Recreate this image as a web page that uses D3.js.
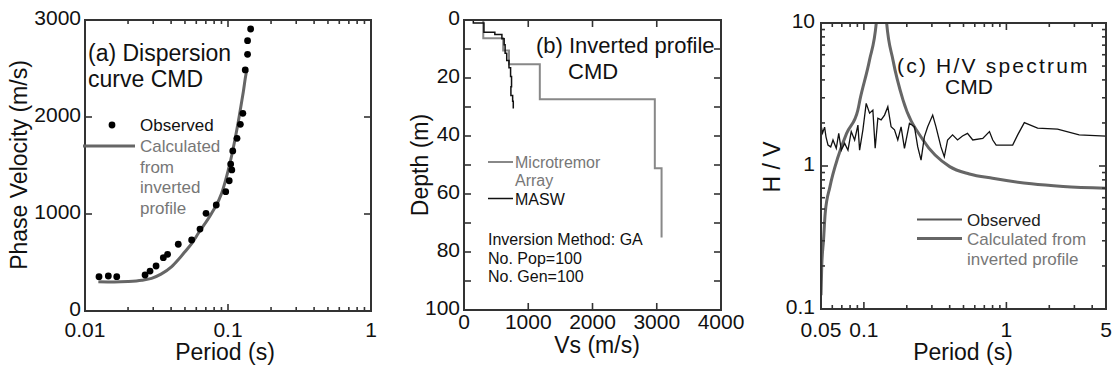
<!DOCTYPE html>
<html>
<head>
<meta charset="utf-8">
<script src="https://cdn.jsdelivr.net/npm/d3@7"></script>
<style>
  body { margin: 0; background: #fff; }
  svg { display: block; font-family: "Liberation Sans", Arial, sans-serif; }
</style>
</head>
<body>
<svg id="chart" width="1113" height="373"></svg>
<script>
// (a) dispersion curve
const dispObsPeriod = [0.01253, 0.01456, 0.01667, 0.0263, 0.0285, 0.0314, 0.0353, 0.0378, 0.0449, 0.0557, 0.0637, 0.0702, 0.0828, 0.0964, 0.102, 0.1063, 0.1044, 0.108, 0.1156, 0.122, 0.127, 0.132, 0.137, 0.137, 0.144];
const dispObsVel    = [354, 361, 354, 371, 412, 464, 550, 584, 688, 732, 845, 1007, 1093, 1230, 1343, 1454, 1515, 1650, 1780, 1925, 2038, 2485, 2646, 2787, 2907];
const dispCalcPeriod = [0.0124, 0.016, 0.020, 0.025, 0.0292, 0.034, 0.0404, 0.045, 0.050, 0.056, 0.062, 0.0768, 0.0903, 0.1005, 0.1063, 0.118, 0.128, 0.135, 0.137];
const dispCalcVel    = [302, 300, 305, 318, 337, 380, 457, 530, 611, 700, 801, 1007, 1213, 1454, 1608, 1951, 2261, 2467, 2480];

// (b) inverted profiles: layer Vs and layer bottom depth
const maswVs    = [145, 310, 480, 590, 625, 640, 665, 700, 725, 740, 730, 757, 767];
const maswDepth = [1.0, 4.2, 5.0, 6.5, 8.5, 11.5, 14.0, 16.5, 19.5, 23.0, 26.0, 28.0, 30.5];
const arrayVs    = [300, 610, 700, 1180, 2970, 3075];
const arrayDepth = [6.3, 10.5, 15.3, 27.3, 51.1, 75];

// (c) H/V spectrum
const hvObsPeriod = [0.0500, 0.0513, 0.0530, 0.0542, 0.0560, 0.0585, 0.0607, 0.0640, 0.0666, 0.0694, 0.0733, 0.0773, 0.0815, 0.0861, 0.0908, 0.0933, 0.0984, 0.1038, 0.1096, 0.1156, 0.1200, 0.1253, 0.1321, 0.1396, 0.1472, 0.1552, 0.1639, 0.1729, 0.1824, 0.1926, 0.2088, 0.2264, 0.2387, 0.2518, 0.2656, 0.2803, 0.3039, 0.3206, 0.3473, 0.3667, 0.3866, 0.4190, 0.4541, 0.4921, 0.5333, 0.5809, 0.6826, 0.7604, 0.8021, 0.8475, 1.107, 1.200, 1.336, 1.656, 2.285, 3.24, 5.0];
const hvObsRatio  = [1.93, 1.70, 1.87, 1.60, 1.40, 1.36, 1.52, 1.33, 1.69, 1.29, 1.44, 1.29, 1.74, 1.52, 1.93, 1.29, 1.79, 2.74, 2.34, 2.46, 1.33, 2.16, 2.10, 2.27, 2.60, 1.88, 1.79, 1.52, 1.88, 1.33, 1.99, 1.88, 1.36, 1.10, 1.60, 1.88, 2.27, 1.88, 1.36, 1.16, 1.52, 1.65, 1.52, 1.62, 1.69, 1.52, 1.56, 1.74, 1.52, 1.40, 1.40, 1.65, 2.01, 1.84, 1.81, 1.65, 1.62];
const hvCalcPeriod = [0.0500, 0.0506, 0.0521, 0.0535, 0.0578, 0.0659, 0.0756, 0.0907, 0.0938, 0.1095, 0.1227, 0.128, 0.131, 0.139, 0.1438, 0.160, 0.188, 0.26, 0.40, 0.55, 0.8, 1.5, 2.5, 5.0];
const hvCalcRatio  = [0.125, 0.198, 0.304, 0.467, 0.717, 1.16, 1.69, 2.46, 2.90, 5.5, 10.5, 20, 30, 20, 10.5, 5.5, 2.9, 1.52, 0.99, 0.88, 0.82, 0.75, 0.72, 0.70];

// tick labels
const aXLabels = [0.01, 0.1, 1];
const aYLabels = [0, 1000, 2000, 3000];
const bXLabels = [0, 1000, 2000, 3000, 4000];
const bYLabels = [0, 20, 40, 60, 80, 100];
const cXLabels = [0.05, 0.1, 1, 5];
const cYLabels = [0.1, 1, 10];

const svg = d3.select("#chart");
const FRAME = "#333";

function drawFrame(g, x, y, xt, yt) {
  const [xa, xb] = x.range();
  const ya = d3.max(y.range()), yb = d3.min(y.range()); // ya = bottom, yb = top
  xt.forEach(t => {
    const px = x(t.v), L = t.major ? 7 : 4;
    g.append("line").attr("x1", px).attr("x2", px).attr("y1", ya).attr("y2", ya - L);
    g.append("line").attr("x1", px).attr("x2", px).attr("y1", yb).attr("y2", yb + L);
  });
  yt.forEach(t => {
    const py = y(t.v), L = t.major ? 7 : 4;
    g.append("line").attr("x1", xa).attr("x2", xa + L).attr("y1", py).attr("y2", py);
    g.append("line").attr("x1", xb).attr("x2", xb - L).attr("y1", py).attr("y2", py);
  });
  g.selectAll("line").attr("stroke", FRAME).attr("stroke-width", 1.6);
  g.append("rect").attr("x", xa).attr("y", yb).attr("width", xb - xa).attr("height", ya - yb)
    .attr("fill", "none").attr("stroke", FRAME).attr("stroke-width", 2);
}

function logTicks(scale) {
  return scale.ticks().map(v => ({ v, major: Math.abs(Math.log10(v) - Math.round(Math.log10(v))) < 1e-6 }));
}

function tickLabels(g, vals, fmt, xs, ys, axis) {
  vals.forEach(v => {
    const t = g.append("text").attr("font-size", 21).attr("fill", "#111").text(fmt(v));
    if (axis === "x") t.attr("x", xs(v)).attr("y", ys).attr("text-anchor", "middle");
    else t.attr("x", xs).attr("y", ys(v) + 4.5).attr("text-anchor", "end");
  });
}

function addText(g, x, y, str, size, fill) {
  return g.append("text").attr("x", x).attr("y", y).attr("font-size", size).attr("fill", fill || "#111").text(str);
}

function vLabel(g, x, y, str) {
  g.append("text").attr("transform", `translate(${x},${y}) rotate(-90)`)
    .attr("text-anchor", "middle").attr("font-size", 23).attr("fill", "#111").text(str);
}

const fmtNum = v => String(v);

// ---------- (a) ----------
{
  const g = svg.append("g");
  const x = d3.scaleLog().domain([0.01, 1]).range([85, 371]);
  const y = d3.scaleLinear().domain([0, 3000]).range([311, 20]);

  const line = d3.line().x(d => x(d[0])).y(d => y(d[1])).curve(d3.curveMonotoneX);
  g.append("path").datum(dispCalcPeriod.map((p, i) => [p, dispCalcVel[i]]))
    .attr("d", line).attr("fill", "none").attr("stroke", "#666").attr("stroke-width", 3);

  g.selectAll("circle.obs").data(dispObsPeriod.map((p, i) => [p, dispObsVel[i]]))
    .enter().append("circle").attr("class", "obs")
    .attr("cx", d => x(d[0])).attr("cy", d => y(d[1])).attr("r", 3.4).attr("fill", "#000");

  drawFrame(g.append("g"), x, y, logTicks(x), [1000, 2000].map(v => ({ v, major: true })));
  tickLabels(g, aXLabels, fmtNum, x, 337, "x");
  tickLabels(g, aYLabels, fmtNum, 81, y, "y");

  addText(g, 88, 61, "(a) Dispersion", 23);
  addText(g, 88, 87, "curve CMD", 23);

  g.append("circle").attr("cx", 112).attr("cy", 125).attr("r", 3.4).attr("fill", "#000");
  addText(g, 140, 131, "Observed", 17);
  g.append("line").attr("x1", 83).attr("x2", 135).attr("y1", 146).attr("y2", 146)
    .attr("stroke", "#666").attr("stroke-width", 3);
  ["Calculated", "from", "inverted", "profile"].forEach((s, i) => addText(g, 140, 152 + i * 20.5, s, 17, "#777"));

  vLabel(g, 27, 165, "Phase Velocity (m/s)");
  addText(g, 225, 360, "Period (s)", 23).attr("text-anchor", "middle");
}

// ---------- (b) ----------
{
  svg.append("clipPath").attr("id", "clipB").append("rect").attr("x", 370).attr("y", 0).attr("width", 377).attr("height", 373);
  const g = svg.append("g").attr("clip-path", "url(#clipB)");
  const x = d3.scaleLinear().domain([0, 4000]).range([464, 721]);
  const y = d3.scaleLinear().domain([0, 100]).range([20, 310]);

  function stepPoints(vs, depth) {
    const pts = [[vs[0], 0]];
    vs.forEach((v, i) => {
      pts.push([v, depth[i]]);
      if (i < vs.length - 1) pts.push([vs[i + 1], depth[i]]);
    });
    return pts;
  }
  const line = d3.line().x(d => x(d[0])).y(d => y(d[1]));
  g.append("path").datum(stepPoints(arrayVs, arrayDepth)).attr("d", line)
    .attr("fill", "none").attr("stroke", "#888").attr("stroke-width", 2);
  g.append("path").datum(stepPoints(maswVs, maswDepth)).attr("d", line)
    .attr("fill", "none").attr("stroke", "#111").attr("stroke-width", 1.5);

  const yt = d3.range(10, 100, 10).map(v => ({ v, major: true }));
  drawFrame(g.append("g"), x, y, [1000, 2000, 3000].map(v => ({ v, major: true })), yt);
  tickLabels(g, bXLabels, fmtNum, x, 329, "x");
  tickLabels(g, bYLabels, fmtNum, 460, y, "y");

  addText(g, 536, 53, "(b) Inverted profile", 22);
  addText(g, 568, 79, "CMD", 22);

  g.append("line").attr("x1", 488).attr("x2", 513).attr("y1", 162).attr("y2", 162).attr("stroke", "#888").attr("stroke-width", 2);
  addText(g, 515, 168, "Microtremor", 16, "#777");
  addText(g, 515, 186, "Array", 16, "#777");
  g.append("line").attr("x1", 488).attr("x2", 513).attr("y1", 198.5).attr("y2", 198.5).attr("stroke", "#111").attr("stroke-width", 1.5);
  addText(g, 515, 204.5, "MASW", 16);

  ["Inversion Method: GA", "No. Pop=100", "No. Gen=100"].forEach((s, i) => addText(g, 488, 245 + i * 18.5, s, 16));

  vLabel(g, 428, 165, "Depth (m)");
  addText(g, 597, 353, "Vs (m/s)", 23).attr("text-anchor", "middle");
}

// ---------- (c) ----------
{
  const g = svg.append("g");
  const x = d3.scaleLog().domain([0.05, 5]).range([821, 1106]);
  const y = d3.scaleLog().domain([0.1, 10]).range([309, 23]);

  svg.append("clipPath").attr("id", "clipC").append("rect").attr("x", 821).attr("y", 23).attr("width", 285).attr("height", 286);
  const line = d3.line().x(d => x(d[0])).y(d => y(d[1]));
  g.append("path").datum(hvCalcPeriod.map((p, i) => [p, hvCalcRatio[i]]))
    .attr("clip-path", "url(#clipC)")
    .attr("d", line.curve(d3.curveMonotoneX)).attr("fill", "none").attr("stroke", "#666").attr("stroke-width", 3);
  g.append("path").datum(hvObsPeriod.map((p, i) => [p, hvObsRatio[i]]))
    .attr("d", d3.line().x(d => x(d[0])).y(d => y(d[1])))
    .attr("fill", "none").attr("stroke", "#111").attr("stroke-width", 1.3);

  drawFrame(g.append("g"), x, y, logTicks(x), logTicks(y));
  tickLabels(g, cXLabels, fmtNum, x, 337, "x");
  tickLabels(g, cYLabels, fmtNum, 815, y, "y");

  addText(g, 897, 73, "(c) H/V spectrum", 21).attr("letter-spacing", 2.2);
  addText(g, 945, 94, "CMD", 21);

  g.append("line").attr("x1", 917).attr("x2", 962).attr("y1", 219.5).attr("y2", 219.5).attr("stroke", "#555").attr("stroke-width", 2);
  addText(g, 967, 225.5, "Observed", 17, "#222");
  g.append("line").attr("x1", 917).attr("x2", 962).attr("y1", 238.5).attr("y2", 238.5).attr("stroke", "#666").attr("stroke-width", 3);
  addText(g, 967, 245, "Calculated from", 17, "#777");
  addText(g, 967, 265, "inverted profile", 17, "#777");

  vLabel(g, 780, 167, "H / V");
  addText(g, 963, 360, "Period (s)", 23).attr("text-anchor", "middle");
}
</script>
</body>
</html>
